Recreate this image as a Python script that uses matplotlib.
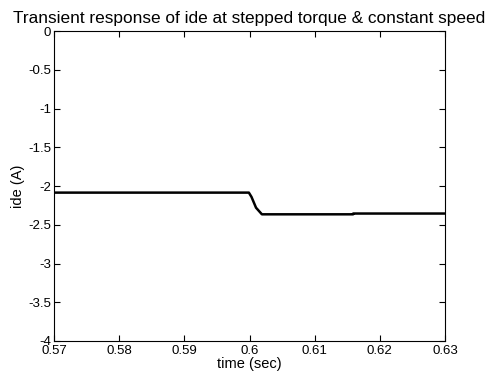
import matplotlib
matplotlib.use("Agg")
import matplotlib.pyplot as plt

plt.rcParams['font.family'] = ['Liberation Sans', 'DejaVu Sans']

# samples of ide
t = [0.57, 0.5999, 0.6003, 0.6010, 0.6019, 0.6159, 0.6159, 0.63]
ide = [-2.085, -2.085, -2.14, -2.28, -2.365, -2.365, -2.355, -2.355]

xticks = [0.57, 0.58, 0.59, 0.6, 0.61, 0.62, 0.63]
xlabels = ['0.57', '0.58', '0.59', '0.6', '0.61', '0.62', '0.63']
yticks = [0, -0.5, -1, -1.5, -2, -2.5, -3, -3.5, -4]
ylabels = ['0', '-0.5', '-1', '-1.5', '-2', '-2.5', '-3', '-3.5', '-4']

fig = plt.figure(figsize=(4.97, 3.79), dpi=100)
ax = fig.add_axes([0.1087, 0.1003, 0.7867, 0.8177])
ax.plot(t, ide, color='black', linewidth=1.8)

ax.set_xlim(0.57, 0.63)
ax.set_ylim(-4, 0)
ax.set_xticks(xticks)
ax.set_xticklabels(xlabels)
ax.set_yticks(yticks)
ax.set_yticklabels(ylabels)
ax.tick_params(direction='in', top=True, right=True, labelsize=9.5, length=4, pad=2)
ax.tick_params(axis='x', pad=3)
for s in ax.spines.values():
    s.set_linewidth(0.8)

ax.set_xlabel('time (sec)', fontsize=10.5, labelpad=0)
ax.set_ylabel('ide (A)', fontsize=10.5, labelpad=2)
ax.set_title('Transient response of ide at stepped torque & constant speed', fontsize=12.4, pad=6)

fig.savefig('out.png', dpi=100)
